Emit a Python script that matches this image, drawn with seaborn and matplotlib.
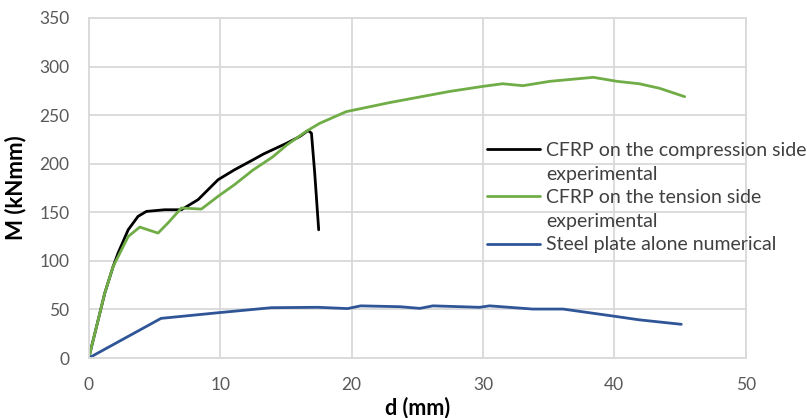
import matplotlib
matplotlib.use("Agg")
import matplotlib.pyplot as plt
from matplotlib.lines import Line2D
import pandas as pd
import seaborn as sns

# Moment-deflection curves, d in mm, M in kN mm
comp_d = [0, 1.22, 1.85, 2.23, 3.0, 3.75, 4.39, 5.78, 7.05, 8.32, 9.84, 11.1,
          12.5, 13.3, 15.05, 16.06, 16.7, 16.95, 17.2, 17.5]
comp_m = [0, 66.9, 94, 108, 132, 145.8, 150.9, 152.6, 152.6, 163, 183.5, 193.8,
          204, 210, 221, 228, 234.2, 231.4, 190, 132]

tens_d = [0, 1.22, 1.85, 3.0, 3.88, 4.5, 5.27, 6.03, 7.05, 8.57, 9.84, 11.1,
          12.5, 14.0, 15.05, 16.56, 17.58, 19.6, 22.9, 27.47, 30.0, 31.5,
          33.05, 35.1, 38.4, 40.2, 41.9, 43.45, 45.36]
tens_m = [0, 66.9, 94, 125, 134.8, 132, 128.6, 139, 154.4, 153.3, 166.4, 178.5,
          193.5, 207, 219, 233.4, 241.6, 253.6, 262.9, 274.4, 279.6, 282.3,
          280.3, 284.8, 288.9, 284.8, 282.3, 277.6, 269]

steel_d = [0, 5.5, 9.84, 13.9, 17.45, 19.7, 20.7, 23.7, 25.2, 26.2, 29.75,
           30.5, 33.8, 36.1, 39.9, 41.9, 45.1]
steel_m = [0, 40.8, 46.6, 51.8, 52.2, 50.9, 53.7, 52.8, 51.1, 53.7, 52.2,
           53.7, 50.4, 50.4, 43.2, 39.3, 34.7]

series_names = ["CFRP on the compression side experimental",
                "CFRP on the tension side experimental",
                "Steel plate alone numerical"]
legend_rows = ["CFRP on the compression side", "experimental",
               "CFRP on the tension side", "experimental",
               "Steel plate alone numerical"]
colors = ["#000000", "#70AD47", "#2F5597"]

x_ticks = [0, 10, 20, 30, 40, 50]
y_ticks = [0, 50, 100, 150, 200, 250, 300, 350]

frames = []
for name, d, m in zip(series_names, [comp_d, tens_d, steel_d],
                      [comp_m, tens_m, steel_m]):
    frames.append(pd.DataFrame({"d": d, "M": m, "series": name}))
df = pd.concat(frames, ignore_index=True)

sns.set_style("white")
plt.rcParams["font.family"] = ["Lato", "DejaVu Sans"]

fig = plt.figure(figsize=(8.07, 4.18), dpi=100)
ax = fig.add_axes([0.110, 0.1435, 0.814, 0.8135])

sns.lineplot(data=df, x="d", y="M", hue="series", hue_order=series_names,
             palette=colors, sort=False, estimator=None, linewidth=2.0,
             legend=False, ax=ax)

ax.set_xlim(0, 50)
ax.set_ylim(0, 350)
ax.set_xticks(x_ticks)
ax.set_yticks(y_ticks)
ax.grid(True, color="#D9D9D9", linewidth=1.3)
ax.set_axisbelow(True)
for s in ax.spines.values():
    s.set_color("#D9D9D9")
    s.set_linewidth(1.3)
ax.tick_params(axis="both", length=0, labelsize=12.5, colors="#595959")
ax.tick_params(axis="y", pad=14)
ax.tick_params(axis="x", pad=14)

ax.set_xlabel("d (mm)", fontsize=15.5, fontweight="bold", color="black", labelpad=2)
ax.set_ylabel("M (kNmm)", fontsize=16, fontweight="bold", color="black", labelpad=9)

handles = [Line2D([], [], color=colors[0], lw=2.0),
           Line2D([], [], color="none"),
           Line2D([], [], color=colors[1], lw=2.0),
           Line2D([], [], color="none"),
           Line2D([], [], color=colors[2], lw=2.0)]
leg = ax.legend(handles, legend_rows, loc="upper left",
                bbox_to_anchor=(487 / 807, 1 - 142 / 418),
                bbox_transform=fig.transFigure, frameon=False,
                fontsize=14, handlelength=2.75, handletextpad=0.3,
                labelspacing=0.34, borderpad=0, borderaxespad=0)
for t in leg.get_texts():
    t.set_color("#404040")

fig.savefig("out.png", dpi=100)
